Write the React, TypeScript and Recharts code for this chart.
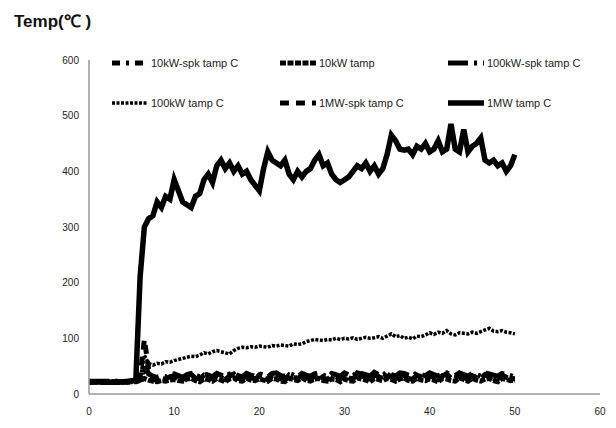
import { Line, LineChart, XAxis, YAxis } from "recharts";

// minutes
const times = [
  0, 0.5, 1, 1.5, 2, 2.5, 3, 3.5, 4, 4.5,
  5, 5.5, 6, 6.5, 7, 7.5, 8, 8.5, 9, 9.5,
  10, 10.5, 11, 11.5, 12, 12.5, 13, 13.5, 14, 14.5,
  15, 15.5, 16, 16.5, 17, 17.5, 18, 18.5, 19, 19.5,
  20, 20.5, 21, 21.5, 22, 22.5, 23, 23.5, 24, 24.5,
  25, 25.5, 26, 26.5, 27, 27.5, 28, 28.5, 29, 29.5,
  30, 30.5, 31, 31.5, 32, 32.5, 33, 33.5, 34, 34.5,
  35, 35.5, 36, 36.5, 37, 37.5, 38, 38.5, 39, 39.5,
  40, 40.5, 41, 41.5, 42, 42.5, 43, 43.5, 44, 44.5,
  45, 45.5, 46, 46.5, 47, 47.5, 48, 48.5, 49, 49.5,
  50,
];

const kw10Spk = [
  22, 22, 22, 22, 22, 22, 22, 22, 22, 22,
  22, 23, 25, 40, 30, 26, 24, 28, 26, 30,
  33, 27, 25, 32, 35, 28, 26, 34, 31, 27,
  35, 30, 26, 33, 36, 28, 27, 35, 30, 26,
  34, 29, 26, 33, 36, 28, 25, 34, 31, 27,
  35, 29, 26, 34, 36, 28, 26, 35, 30, 27,
  34, 29, 26, 38, 36, 29, 27, 37, 31, 26,
  38, 30, 27, 36, 35, 28, 26, 35, 31, 27,
  36, 30, 26, 34, 36, 28, 27, 35, 30, 26,
  34, 29, 27, 35, 33, 28, 26, 34, 30, 27,
  28,
];

const kw10Temp = [
  22, 22, 22, 22, 22, 22, 22, 22, 22, 22,
  22, 22, 24, 28, 25, 23, 22, 24, 23, 25,
  26, 24, 23, 27, 28, 24, 22, 27, 26, 23,
  28, 25, 22, 27, 29, 24, 23, 28, 25, 24,
  27, 25, 23, 28, 27, 23, 22, 28, 26, 24,
  29, 25, 23, 27, 28, 24, 23, 27, 26, 22,
  27, 24, 23, 29, 27, 25, 22, 28, 26, 24,
  28, 26, 23, 27, 29, 24, 23, 28, 25, 24,
  27, 25, 22, 28, 27, 24, 23, 29, 26, 23,
  28, 25, 23, 27, 28, 24, 22, 28, 26, 24,
  25,
];

const kw100Spk = [
  23, 23, 23, 23, 23, 23, 23, 23, 23, 23,
  23, 24, 27, 55, 36, 32, 30, 33, 31, 34,
  36, 33, 30, 35, 37, 33, 31, 36, 34, 31,
  37, 34, 31, 36, 38, 33, 31, 37, 34, 32,
  36, 34, 31, 37, 38, 33, 32, 37, 34, 31,
  37, 34, 32, 36, 38, 34, 31, 37, 35, 32,
  38, 34, 32, 40, 37, 35, 32, 39, 35, 33,
  40, 35, 32, 38, 37, 34, 32, 38, 35, 33,
  38, 35, 32, 37, 38, 34, 33, 38, 35, 32,
  37, 35, 32, 38, 36, 34, 32, 37, 35, 33,
  30,
];

const kw100Temp = [
  22, 22, 22, 21, 21, 21, 21, 21, 22, 22,
  23, 24, 26, 70, 55, 52, 55, 54, 58, 57,
  60, 62, 64, 66, 68, 67, 70, 74, 72, 76,
  78, 76, 74, 72, 78, 82, 84, 83, 85, 84,
  86, 85, 84, 87, 86, 88, 87, 86, 90, 89,
  90, 94, 96, 98, 97, 96, 98, 97, 100, 98,
  100, 99, 101, 98, 100, 102, 100, 101, 103, 100,
  104, 108, 103, 105, 100, 102, 99, 104, 103, 106,
  110, 107, 111, 109, 114, 108, 106, 110, 109, 108,
  111, 109, 112, 115, 118, 113, 112, 114, 111, 110,
  108,
];

const mw1Spk = [
  21, 21, 21, 21, 21, 21, 21, 21, 21, 21,
  22, 25, 30, 98, 45, 30, 25, 29, 27, 31,
  32, 27, 26, 31, 33, 28, 27, 32, 30, 28,
  33, 29, 26, 32, 34, 28, 27, 33, 30, 27,
  32, 28, 26, 33, 34, 27, 26, 32, 30, 28,
  33, 29, 27, 32, 34, 28, 26, 33, 31, 27,
  35, 29, 27, 36, 34, 28, 27, 35, 31, 27,
  36, 30, 27, 35, 33, 28, 26, 34, 30, 28,
  34, 29, 27, 33, 35, 28, 27, 34, 30, 27,
  33, 29, 27, 34, 32, 28, 27, 33, 30, 28,
  27,
];

const mw1Temp = [
  22, 22, 22, 21, 21, 21, 21, 21, 22, 22,
  24, 26, 210, 300, 315, 320, 345, 335, 355, 350,
  385, 365, 345, 340, 335, 355, 360, 385, 395, 380,
  410, 420, 405, 415, 400, 410, 395, 400, 385, 375,
  365, 405, 435, 420, 415, 410, 420, 395, 385, 400,
  390, 400, 405, 420, 430, 410, 415, 395, 385, 380,
  385, 390, 400, 410, 405, 415, 400, 410, 395, 405,
  430, 465, 455, 440, 438, 440, 430, 445, 440, 450,
  435, 440, 455, 435, 440, 485, 440, 435, 475, 435,
  445, 450, 460, 420, 415, 420, 410, 415, 400, 410,
  430,
];

const xTicks = [0, 10, 20, 30, 40, 50, 60];
const yTicks = [0, 100, 200, 300, 400, 500, 600];

const data = times.map((t, i) => ({
  t,
  kw10Spk: kw10Spk[i],
  kw10Temp: kw10Temp[i],
  kw100Spk: kw100Spk[i],
  kw100Temp: kw100Temp[i],
  mw1Spk: mw1Spk[i],
  mw1Temp: mw1Temp[i],
}));

const series = [
  { key: "kw10Spk", name: "10kW-spk tamp C", dash: "8 6 3 6", width: 5, col: 0, row: 0 },
  { key: "kw10Temp", name: "10kW tamp", dash: "6 1.5", width: 5, col: 1, row: 0 },
  { key: "kw100Spk", name: "100kW-spk tamp C", dash: "20 6 3 6", width: 5, col: 2, row: 0 },
  { key: "kw100Temp", name: "100kW tamp C", dash: "3 1.5", width: 3.5, col: 0, row: 1 },
  { key: "mw1Spk", name: "1MW-spk tamp C", dash: "9 7", width: 5, col: 1, row: 1 },
  { key: "mw1Temp", name: "1MW tamp C", dash: undefined, width: 5.5, col: 2, row: 1 },
];

const font = "'Liberation Sans Narrow', 'Liberation Sans', Arial, sans-serif";
const colX = [112, 280, 448];
const rowY = [57, 97];

export default function App() {
  return (
    <div style={{ position: "relative", width: 616, height: 428, background: "#fff" }}>
      <style>{`body{margin:0}`}</style>
      <div
        style={{
          position: "absolute",
          left: 14,
          top: 9,
          fontFamily: font,
          fontWeight: "bold",
          fontSize: 17,
          color: "#111",
        }}
      >
        Temp(℃ )
      </div>
      <LineChart width={616} height={428} data={data} margin={{ top: 60, right: 16, bottom: 0, left: 0 }}>
        <XAxis
          type="number"
          dataKey="t"
          domain={[0, 60]}
          ticks={xTicks}
          height={34}
          tickLine={false}
          tickMargin={8}
          axisLine={{ stroke: "#999", strokeWidth: 1.5 }}
          tick={{ fontSize: 10, fill: "#222", fontFamily: font }}
        />
        <YAxis
          type="number"
          domain={[0, 600]}
          ticks={yTicks}
          width={89}
          tickLine={false}
          tickMargin={4}
          axisLine={{ stroke: "#999", strokeWidth: 1.5 }}
          tick={{ fontSize: 10, fill: "#222", fontFamily: font }}
        />
        {series.map((s) => (
          <Line
            key={s.key}
            dataKey={s.key}
            name={s.name}
            stroke="#000"
            strokeWidth={s.width}
            strokeDasharray={s.dash}
            dot={false}
            type="linear"
            isAnimationActive={false}
          />
        ))}
      </LineChart>
      {series.map((s) => (
        <div
          key={s.key}
          style={{
            position: "absolute",
            left: colX[s.col],
            top: rowY[s.row],
            display: "flex",
            alignItems: "center",
            fontFamily: font,
            fontSize: 11,
            color: "#222",
            whiteSpace: "nowrap",
          }}
        >
          <svg width={36} height={10}>
            <line x1={0} y1={5} x2={36} y2={5} stroke="#000" strokeWidth={s.width} strokeDasharray={s.dash} />
          </svg>
          <span style={{ marginLeft: 3 }}>{s.name}</span>
        </div>
      ))}
    </div>
  );
}
